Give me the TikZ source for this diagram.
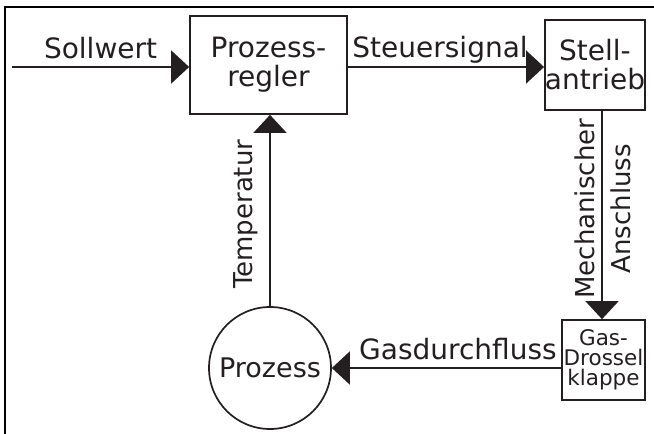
\documentclass[tikz,border=0pt]{standalone}
\usepackage{fontspec}
\setmainfont{DejaVu Sans}
\usetikzlibrary{arrows.meta}
\definecolor{ink}{RGB}{35,31,32}

\begin{document}
\begin{tikzpicture}[x=1pt,y=-1pt,line width=1.7pt,draw=ink,text=ink,
    >={Triangle[length=18pt,width=33pt]}]
    \tikzstyle{block}=[draw,rectangle,inner sep=0pt,align=center,font=\fontsize{28}{29}\selectfont]
    \tikzstyle{small}=[draw,rectangle,inner sep=0pt,align=center,font=\fontsize{21.5}{20}\selectfont]
    \tikzstyle{proc}=[draw,circle,inner sep=0pt,minimum size=122pt,font=\fontsize{27}{30}\selectfont]
    \tikzstyle{annot}=[font=\fontsize{28}{30}\selectfont,inner sep=0pt,text depth=0pt]
    \tikzstyle{vannot}=[annot,font=\fontsize{26}{30}\selectfont,rotate=90]

    \useasboundingbox (0,0) rectangle (654,434);
    %%% FRAME
    \draw[line width=2.2pt,draw=black] (5,434) -- (5,7) -- (654,7);

    %%% DRAW THE NODES
    \coordinate (in) at (12,67);
    \node[block,minimum width=157pt,minimum height=98pt] (regler) at (268.5,65) {Prozess-\\regler};
    \node[block,minimum width=100pt,minimum height=90pt] (antrieb) at (595,65) {Stell-\\antrieb};
    \node[small,minimum width=83pt,minimum height=80pt] (klappe) at (603.5,360) {Gas-\\Drossel\\klappe};
    \node[proc] (prozess) at (270,368) {Prozess};

    %%% DRAW THE PATHS
    \draw[->] (in) -- (regler.west |- in) node[annot,midway,above=8pt] {Sollwert};
    \draw[->] (regler.east |- in) -- (antrieb.west |- in) node[annot,pos=0.47,above=9pt] {Steuersignal};
    \draw[->] (antrieb.south -| 602,0) -- (klappe.north -| 602,0)
        node[vannot,pos=0.47,above=7pt] {Mechanischer}
        node[vannot,pos=0.47,below=8pt] {Anschluss};
    \draw[->] (klappe.west |- prozess) -- (prozess.east) node[annot,pos=0.45,above=8pt] {Gasdurchfluss};
    \draw[->] (prozess.north) -- (regler.south -| prozess) node[vannot,pos=0.48,above=17pt] {Temperatur};
\end{tikzpicture}
\end{document}
